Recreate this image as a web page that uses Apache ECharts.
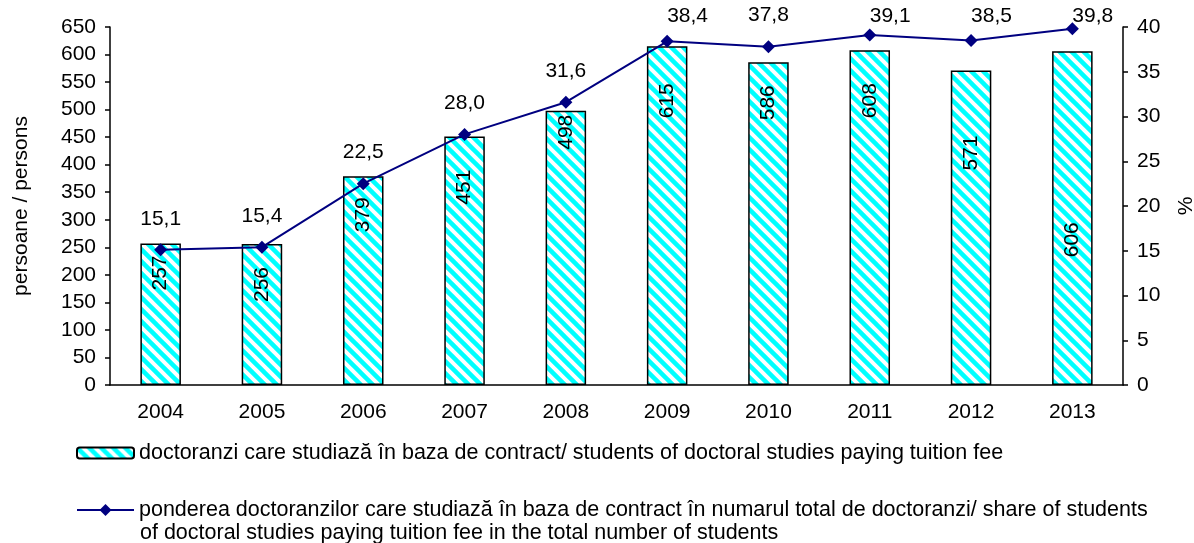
<!DOCTYPE html>
<html>
<head>
<meta charset="utf-8">
<script src="https://cdn.jsdelivr.net/npm/echarts@6/dist/echarts.min.js"></script>
<style>
  html, body { margin: 0; padding: 0; background: #fff; }
  #chart { width: 1194px; height: 543px; }
</style>
</head>
<body>
<div id="chart"></div>
<script>
var years = ['2004', '2005', '2006', '2007', '2008', '2009', '2010', '2011', '2012', '2013'];
var students = [257, 256, 379, 451, 498, 615, 586, 608, 571, 606];
var share = [15.1, 15.4, 22.5, 28.0, 31.6, 38.4, 37.8, 39.1, 38.5, 39.8];

var barName = 'doctoranzi care studiază în baza de contract/ students of doctoral studies paying tuition fee';
var lineName = 'ponderea doctoranzilor care studiază în baza de contract în numarul total de doctoranzi/ share of students of doctoral studies paying tuition fee in the total number of students';
var lineName1 = 'ponderea doctoranzilor care studiază în baza de contract în numarul total de doctoranzi/ share of students';
var lineName2 = 'of doctoral studies paying tuition fee in the total number of students';

// cat de jos sta eticheta in fiecare bara (px de la capatul barei)
var labelDrop = [12, 23, 21, 33, 4, 37, 23, 33, 65, 171];

// hasura cyan pe alb
var pat = document.createElement('canvas');
pat.width = 12; pat.height = 12;
var ctx = pat.getContext('2d');
ctx.fillStyle = '#fff';
ctx.fillRect(0, 0, 12, 12);
ctx.strokeStyle = '#00ffff';
ctx.lineWidth = 4.5;
for (var k = -12; k <= 12; k += 12) {
    ctx.beginPath();
    ctx.moveTo(k - 2, -2);
    ctx.lineTo(k + 14, 14);
    ctx.stroke();
}

var font = 'Liberation Sans, Arial, sans-serif';
var fs = 21;
var chart = echarts.init(document.getElementById('chart'));

var barData = students.map(function (v, i) {
    return { value: v, label: { distance: labelDrop[i] } };
});

var option = {
    backgroundColor: '#fff',
    textStyle: { fontFamily: font },
    animation: false,
    grid: { left: 110, right: 71, top: 27, bottom: 158, outerBoundsMode: 'none', containLabel: false },
    legend: [
        {
            data: [barName],
            left: 76, top: 442, padding: 0,
            itemWidth: 57, itemHeight: 11,
            textStyle: { fontSize: 21.5, color: '#000', fontFamily: font }
        },
        {
            data: [lineName],
            left: 76, top: 499, padding: 0,
            itemWidth: 57, itemHeight: 15,
            textStyle: { fontSize: 21.5, color: '#000', fontFamily: font },
            formatter: function () { return lineName1; }
        }
    ],
    graphic: [{
        type: 'text',
        left: 140, top: 522,
        style: { text: lineName2, fontSize: 21.5, fontFamily: font, fill: '#000' }
    }],
    xAxis: {
        type: 'category',
        data: years,
        axisLine: { lineStyle: { color: '#000', width: 1.5 } },
        axisTick: { length: 6, lineStyle: { color: '#000', width: 1.5 } },
        axisLabel: { color: '#000', fontSize: fs, margin: 17 }
    },
    yAxis: [
        {
            type: 'value', min: 0, max: 650, interval: 50,
            name: 'persoane / persons', nameLocation: 'middle', nameGap: 78,
            nameTextStyle: { fontSize: fs, color: '#000' },
            axisLine: { show: true, lineStyle: { color: '#000', width: 1.5 } },
            axisTick: { show: true, length: 5, lineStyle: { color: '#000', width: 1.5 } },
            axisLabel: { color: '#000', fontSize: fs, margin: 14 },
            splitLine: { show: false }
        },
        {
            type: 'value', min: 0, max: 40, interval: 5,
            name: '%', nameLocation: 'middle', nameGap: 53,
            nameTextStyle: { fontSize: fs, color: '#000' },
            axisLine: { show: true, lineStyle: { color: '#000', width: 1.5 } },
            axisTick: { show: true, length: 5, lineStyle: { color: '#000', width: 1.5 } },
            axisLabel: { color: '#000', fontSize: fs, margin: 14 },
            splitLine: { show: false }
        }
    ],
    series: [
        {
            name: barName,
            type: 'bar',
            data: barData,
            barWidth: '40%',
            itemStyle: {
                color: { image: pat, repeat: 'repeat' },
                borderColor: '#000',
                borderWidth: 1.5
            },
            label: {
                show: true,
                position: 'insideTop',
                rotate: 90,
                align: 'right',
                verticalAlign: 'middle',
                fontSize: fs,
                color: '#000'
            }
        },
        {
            name: lineName,
            type: 'line',
            yAxisIndex: 1,
            data: share,
            symbol: 'diamond',
            symbolSize: 13,
            lineStyle: { color: '#000080', width: 2 },
            itemStyle: { color: '#000080' },
            label: {
                show: true,
                position: 'top',
                distance: 14,
                fontSize: fs,
                color: '#000',
                formatter: function (p) { return p.value.toFixed(1).replace('.', ','); }
            },
            labelLayout: function (params) {
                if (params.labelRect.y < 5) {
                    return { y: 6 };
                }
            },
            z: 5
        }
    ]
};

chart.setOption(option);
</script>
</body>
</html>
